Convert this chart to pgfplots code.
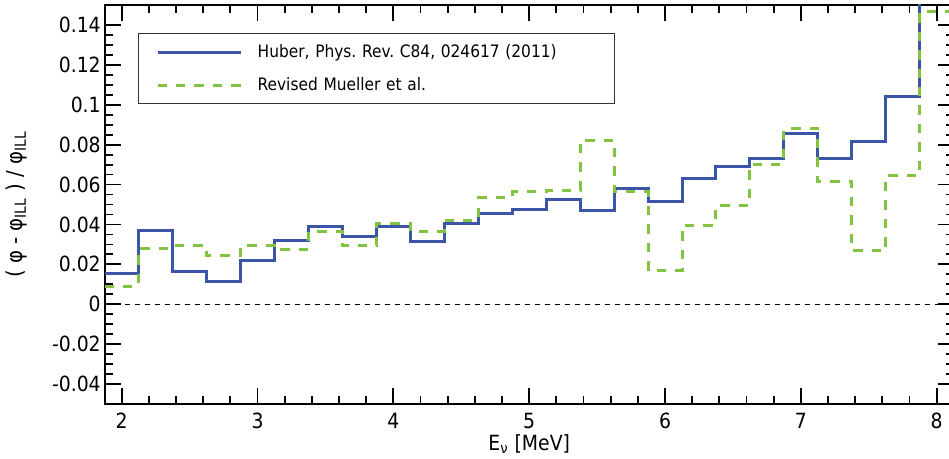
\documentclass[border=0pt]{standalone}
\usepackage{fontspec}
\setmainfont{DejaVu Sans Condensed}
\usepackage{pgfplots}
\pgfplotsset{compat=1.18}
\definecolor{huber}{RGB}{59,86,168}
\definecolor{mueller}{RGB}{130,195,65}
\frenchspacing

\begin{document}
\begin{tikzpicture}
\begin{axis}[
    name=ax,
    scale only axis,
    width=424.5bp, height=199.5bp,
    xmin=1.875, xmax=8.125,
    ymin=-0.05, ymax=0.15,
    xtick={2,3,4,5,6,7,8},
    ytick={-0.04,-0.02,0,0.02,0.04,0.06,0.08,0.1,0.12,0.14},
    minor x tick num=4,
    minor y tick num=3,
    tick align=inside,
    major tick length=8bp, minor tick length=4bp,
    axis line style={line width=1bp},
    every tick/.style={black, line width=0.9bp},
    /pgf/number format/assume math mode=true,
    ticklabel style={font=\fontsize{10.5}{12}\selectfont},
    yticklabel style={/pgf/number format/fixed, /pgf/number format/precision=2, inner xsep=1.8bp},
    xticklabel style={anchor=base, yshift=-12bp},
    xlabel={E\textsubscript{ν} [MeV]},
    xlabel style={at={(axis description cs:0.5,-0.1153)}, anchor=base, font=\fontsize{10.5}{12}\selectfont},
    ylabel={( φ - φ\textsubscript{ILL} ) / φ\textsubscript{ILL}},
    ylabel style={at={(axis description cs:-0.1044,0.5)}, anchor=center, font=\fontsize{11}{13}\selectfont},
    legend cell align=left,
    legend style={at={(axis description cs:0.0392,0.9298)}, anchor=north west,
        draw=black!80, line width=0.7bp, fill=white,
        inner xsep=0pt, inner ysep=1bp, column sep=0pt, row sep=0pt,
        font=\fontsize{8.6}{10}\selectfont,
        nodes={anchor=west, inner sep=0pt, minimum height=16.5bp, text width=178.5bp}},
    legend image code/.code={\path[draw=none] (0bp,0bp) -- (59.5bp,0bp); \draw[#1] (9.5bp,0bp) -- (51bp,0bp);},
]
% zero line
\addplot[black, line width=0.7bp, dash pattern=on 2.5bp off 2.5bp, forget plot]
    coordinates {(1.875,0) (8.125,0)};

% Huber
\addplot[const plot, huber, line width=1.5bp]
    coordinates {
    (1.875,0.0155)
    (2.125,0.0372)
    (2.375,0.0166)
    (2.625,0.0116)
    (2.875,0.0219)
    (3.125,0.0319)
    (3.375,0.0389)
    (3.625,0.0339)
    (3.875,0.0389)
    (4.125,0.0313)
    (4.375,0.0407)
    (4.625,0.0455)
    (4.875,0.0477)
    (5.125,0.0524)
    (5.375,0.0470)
    (5.625,0.0582)
    (5.875,0.0514)
    (6.125,0.0628)
    (6.375,0.0688)
    (6.625,0.0733)
    (6.875,0.0856)
    (7.125,0.0733)
    (7.375,0.0815)
    (7.625,0.1039)
    (7.875,0.19)
    (8.125,0.19)
    };
\addlegendentry{Huber, Phys. Rev. C84, 024617 (2011)}

% Revised Mueller
\addplot[const plot, mueller, line width=1.5bp, dash pattern=on 4.7bp off 4.5bp]
    coordinates {
    (1.875,0.0091)
    (2.125,0.0281)
    (2.375,0.0293)
    (2.625,0.0244)
    (2.875,0.0293)
    (3.125,0.0274)
    (3.375,0.0366)
    (3.625,0.0293)
    (3.875,0.0407)
    (4.125,0.0366)
    (4.375,0.0421)
    (4.625,0.0534)
    (4.875,0.0564)
    (5.125,0.0572)
    (5.375,0.0823)
    (5.625,0.0565)
    (5.875,0.0168)
    (6.125,0.0397)
    (6.375,0.0497)
    (6.625,0.0703)
    (6.875,0.0879)
    (7.125,0.0615)
    (7.375,0.0268)
    (7.625,0.0645)
    (7.875,0.1466)
    (8.125,0.1466)
    };
\addlegendentry{Revised Mueller et al.}
\end{axis}
\pgfresetboundingbox
\useasboundingbox ([shift={(-52.35bp,-27.5bp)}]ax.south west) rectangle ([shift={(-2.35bp,2.5bp)}]ax.north east);
\end{tikzpicture}
\end{document}
